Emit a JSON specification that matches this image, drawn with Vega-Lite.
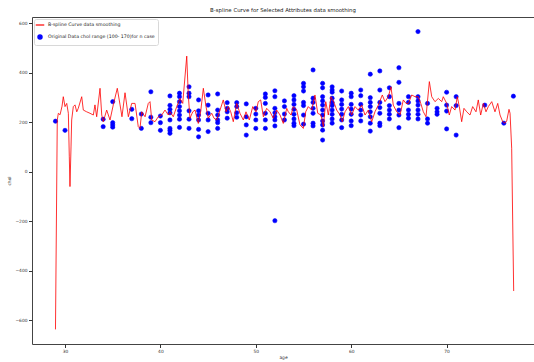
{
  "$schema": "https://vega.github.io/schema/vega-lite/v6.json",
  "width": 502,
  "height": 327,
  "autosize": "none",
  "padding": {"left": 32, "top": 17, "right": 0, "bottom": 18},
  "background": "white",
  "title": {"text": "B-spline Curve for Selected Attributes data smoothing", "fontSize": 5.4, "fontWeight": "normal", "font": "DejaVu Sans", "color": "#222", "offset": 4, "anchor": "middle"},
  "config": {
    "view": {"stroke": "#444", "strokeWidth": 1},
    "axis": {"grid": false, "domain": false, "tickColor": "#333", "tickSize": 3.5, "labelPadding": 1.5, "labelFontSize": 4.4, "labelFont": "DejaVu Sans", "labelColor": "#333", "titleFontSize": 4.4, "titleFont": "DejaVu Sans", "titleFontWeight": "normal", "titleColor": "#333"},
    "legend": {"orient": "none", "legendX": 2, "legendY": 2, "strokeColor": "#d8d8d8", "fillColor": "white", "padding": 3, "cornerRadius": 2, "labelFontSize": 4.7, "labelFont": "DejaVu Sans", "labelColor": "#222", "labelLimit": 400, "symbolSize": 18, "symbolStrokeWidth": 1.2, "rowPadding": 4, "labelOffset": 5, "title": null}
  },
  "datasets": {
    "curve": [
      {"age": 29.00, "chol": -637}, {"age": 29.19, "chol": 209}, {"age": 29.30, "chol": 236}, {"age": 29.48, "chol": 230}, {"age": 29.69, "chol": 265}, {"age": 29.82, "chol": 303}, {"age": 30.00, "chol": 263}, {"age": 30.18, "chol": 276}, {"age": 30.35, "chol": 236}, {"age": 30.45, "chol": 60}, {"age": 30.52, "chol": -60}, {"age": 30.63, "chol": 100}, {"age": 30.70, "chol": 209}, {"age": 30.87, "chol": 263}, {"age": 31.05, "chol": 270}, {"age": 31.23, "chol": 242}, {"age": 31.39, "chol": 256}, {"age": 31.75, "chol": 303}, {"age": 31.92, "chol": 249}, {"age": 32.27, "chol": 242}, {"age": 32.62, "chol": 236}, {"age": 32.97, "chol": 229}, {"age": 33.14, "chol": 270}, {"age": 33.32, "chol": 222}, {"age": 33.67, "chol": 337}, {"age": 33.85, "chol": 229}, {"age": 34.01, "chol": 202}, {"age": 34.37, "chol": 249}, {"age": 34.72, "chol": 209}, {"age": 35.06, "chol": 270}, {"age": 35.48, "chol": 337}, {"age": 35.77, "chol": 270}, {"age": 35.97, "chol": 222}, {"age": 36.29, "chol": 319}, {"age": 36.64, "chol": 222}, {"age": 36.99, "chol": 276}, {"age": 37.34, "chol": 276}, {"age": 37.68, "chol": 182}, {"age": 37.86, "chol": 175}, {"age": 38.04, "chol": 242}, {"age": 38.39, "chol": 222}, {"age": 38.73, "chol": 276}, {"age": 38.91, "chol": 283}, {"age": 39.09, "chol": 209}, {"age": 39.43, "chol": 202}, {"age": 39.78, "chol": 222}, {"age": 40.14, "chol": 229}, {"age": 40.48, "chol": 249}, {"age": 40.83, "chol": 229}, {"age": 41.01, "chol": 242}, {"age": 41.35, "chol": 222}, {"age": 41.71, "chol": 263}, {"age": 42.05, "chol": 296}, {"age": 42.34, "chol": 276}, {"age": 42.76, "chol": 467}, {"age": 42.92, "chol": 310}, {"age": 43.10, "chol": 216}, {"age": 43.39, "chol": 242}, {"age": 43.63, "chol": 249}, {"age": 43.97, "chol": 195}, {"age": 44.22, "chol": 242}, {"age": 44.50, "chol": 337}, {"age": 44.78, "chol": 263}, {"age": 45.02, "chol": 216}, {"age": 45.38, "chol": 236}, {"age": 45.62, "chol": 216}, {"age": 45.90, "chol": 209}, {"age": 46.25, "chol": 249}, {"age": 46.59, "chol": 290}, {"age": 46.88, "chol": 242}, {"age": 47.12, "chol": 263}, {"age": 47.37, "chol": 242}, {"age": 47.64, "chol": 202}, {"age": 48.00, "chol": 276}, {"age": 48.34, "chol": 236}, {"age": 48.69, "chol": 209}, {"age": 48.97, "chol": 242}, {"age": 49.32, "chol": 209}, {"age": 49.68, "chol": 263}, {"age": 50.02, "chol": 242}, {"age": 50.26, "chol": 283}, {"age": 50.51, "chol": 290}, {"age": 50.79, "chol": 222}, {"age": 51.14, "chol": 256}, {"age": 51.49, "chol": 242}, {"age": 51.83, "chol": 216}, {"age": 52.19, "chol": 249}, {"age": 52.54, "chol": 229}, {"age": 52.88, "chol": 195}, {"age": 53.24, "chol": 256}, {"age": 53.41, "chol": 242}, {"age": 53.69, "chol": 229}, {"age": 53.93, "chol": 263}, {"age": 54.29, "chol": 249}, {"age": 54.63, "chol": 189}, {"age": 54.98, "chol": 175}, {"age": 55.23, "chol": 242}, {"age": 55.50, "chol": 263}, {"age": 55.86, "chol": 249}, {"age": 56.20, "chol": 310}, {"age": 56.49, "chol": 236}, {"age": 56.83, "chol": 229}, {"age": 57.08, "chol": 182}, {"age": 57.33, "chol": 283}, {"age": 57.60, "chol": 229}, {"age": 57.88, "chol": 303}, {"age": 58.23, "chol": 276}, {"age": 58.48, "chol": 249}, {"age": 58.83, "chol": 229}, {"age": 59.07, "chol": 202}, {"age": 59.35, "chol": 242}, {"age": 59.70, "chol": 263}, {"age": 60.05, "chol": 229}, {"age": 60.40, "chol": 263}, {"age": 60.74, "chol": 249}, {"age": 61.10, "chol": 269}, {"age": 61.45, "chol": 229}, {"age": 61.79, "chol": 249}, {"age": 62.15, "chol": 202}, {"age": 62.49, "chol": 242}, {"age": 62.84, "chol": 269}, {"age": 63.26, "chol": 310}, {"age": 63.54, "chol": 283}, {"age": 63.89, "chol": 303}, {"age": 64.17, "chol": 343}, {"age": 64.41, "chol": 269}, {"age": 64.77, "chol": 242}, {"age": 65.12, "chol": 229}, {"age": 65.46, "chol": 290}, {"age": 65.74, "chol": 276}, {"age": 66.00, "chol": 276}, {"age": 66.34, "chol": 310}, {"age": 66.69, "chol": 303}, {"age": 67.03, "chol": 303}, {"age": 67.29, "chol": 276}, {"age": 67.56, "chol": 242}, {"age": 67.84, "chol": 222}, {"age": 68.19, "chol": 364}, {"age": 68.44, "chol": 303}, {"age": 68.78, "chol": 283}, {"age": 69.13, "chol": 296}, {"age": 69.49, "chol": 283}, {"age": 69.65, "chol": 303}, {"age": 70.01, "chol": 276}, {"age": 70.28, "chol": 229}, {"age": 70.53, "chol": 263}, {"age": 70.88, "chol": 249}, {"age": 71.12, "chol": 303}, {"age": 71.33, "chol": 263}, {"age": 71.58, "chol": 202}, {"age": 71.82, "chol": 256}, {"age": 72.11, "chol": 242}, {"age": 72.45, "chol": 229}, {"age": 72.73, "chol": 263}, {"age": 73.08, "chol": 242}, {"age": 73.32, "chol": 290}, {"age": 73.57, "chol": 229}, {"age": 73.85, "chol": 276}, {"age": 74.13, "chol": 242}, {"age": 74.37, "chol": 263}, {"age": 74.73, "chol": 283}, {"age": 75.07, "chol": 242}, {"age": 75.36, "chol": 276}, {"age": 75.60, "chol": 229}, {"age": 75.88, "chol": 202}, {"age": 76.12, "chol": 196}, {"age": 76.30, "chol": 205}, {"age": 76.54, "chol": 252}, {"age": 76.65, "chol": 236}, {"age": 76.82, "chol": 95}, {"age": 77.03, "chol": -482}
    ],
    "pts": [
      {"age": 29, "chol": 204},
      {"age": 30, "chol": 167},
      {"age": 34, "chol": 212}, {"age": 34, "chol": 182},
      {"age": 35, "chol": 283}, {"age": 35, "chol": 198}, {"age": 35, "chol": 189}, {"age": 35, "chol": 180},
      {"age": 37, "chol": 252}, {"age": 37, "chol": 214},
      {"age": 38, "chol": 233}, {"age": 38, "chol": 175},
      {"age": 39, "chol": 323}, {"age": 39, "chol": 220}, {"age": 39, "chol": 198},
      {"age": 40, "chol": 225}, {"age": 40, "chol": 198}, {"age": 40, "chol": 167},
      {"age": 41, "chol": 306}, {"age": 41, "chol": 268}, {"age": 41, "chol": 252}, {"age": 41, "chol": 238}, {"age": 41, "chol": 209}, {"age": 41, "chol": 175}, {"age": 41, "chol": 166}, {"age": 41, "chol": 155},
      {"age": 42, "chol": 317}, {"age": 42, "chol": 303}, {"age": 42, "chol": 283}, {"age": 42, "chol": 263}, {"age": 42, "chol": 246}, {"age": 42, "chol": 229}, {"age": 42, "chol": 212}, {"age": 42, "chol": 179},
      {"age": 43, "chol": 343}, {"age": 43, "chol": 317}, {"age": 43, "chol": 303}, {"age": 43, "chol": 246}, {"age": 43, "chol": 212}, {"age": 43, "chol": 175},
      {"age": 44, "chol": 290}, {"age": 44, "chol": 246}, {"age": 44, "chol": 229}, {"age": 44, "chol": 209}, {"age": 44, "chol": 171}, {"age": 44, "chol": 141},
      {"age": 45, "chol": 310}, {"age": 45, "chol": 269}, {"age": 45, "chol": 236}, {"age": 45, "chol": 209}, {"age": 45, "chol": 162},
      {"age": 46, "chol": 314}, {"age": 46, "chol": 249}, {"age": 46, "chol": 229}, {"age": 46, "chol": 209}, {"age": 46, "chol": 198}, {"age": 46, "chol": 175},
      {"age": 47, "chol": 279}, {"age": 47, "chol": 256}, {"age": 47, "chol": 242}, {"age": 47, "chol": 216},
      {"age": 48, "chol": 279}, {"age": 48, "chol": 263}, {"age": 48, "chol": 238}, {"age": 48, "chol": 220},
      {"age": 49, "chol": 274}, {"age": 49, "chol": 222}, {"age": 49, "chol": 189}, {"age": 49, "chol": 148},
      {"age": 50, "chol": 256}, {"age": 50, "chol": 233}, {"age": 50, "chol": 209}, {"age": 50, "chol": 175},
      {"age": 51, "chol": 314}, {"age": 51, "chol": 300}, {"age": 51, "chol": 276}, {"age": 51, "chol": 236}, {"age": 51, "chol": 209}, {"age": 51, "chol": 175},
      {"age": 52, "chol": 327}, {"age": 52, "chol": 303}, {"age": 52, "chol": 256}, {"age": 52, "chol": 238}, {"age": 52, "chol": 222}, {"age": 52, "chol": 209}, {"age": 52, "chol": 185}, {"age": 52, "chol": -198},
      {"age": 53, "chol": 286}, {"age": 53, "chol": 263}, {"age": 53, "chol": 233}, {"age": 53, "chol": 209},
      {"age": 54, "chol": 307}, {"age": 54, "chol": 290}, {"age": 54, "chol": 272}, {"age": 54, "chol": 252}, {"age": 54, "chol": 232}, {"age": 54, "chol": 213}, {"age": 54, "chol": 196}, {"age": 54, "chol": 186},
      {"age": 55, "chol": 357}, {"age": 55, "chol": 343}, {"age": 55, "chol": 326}, {"age": 55, "chol": 280}, {"age": 55, "chol": 267}, {"age": 55, "chol": 229}, {"age": 55, "chol": 192},
      {"age": 56, "chol": 411}, {"age": 56, "chol": 297}, {"age": 56, "chol": 280}, {"age": 56, "chol": 256}, {"age": 56, "chol": 236}, {"age": 56, "chol": 196}, {"age": 56, "chol": 185},
      {"age": 57, "chol": 357}, {"age": 57, "chol": 339}, {"age": 57, "chol": 303}, {"age": 57, "chol": 286}, {"age": 57, "chol": 269}, {"age": 57, "chol": 249}, {"age": 57, "chol": 229}, {"age": 57, "chol": 205}, {"age": 57, "chol": 189}, {"age": 57, "chol": 168}, {"age": 57, "chol": 128},
      {"age": 58, "chol": 343}, {"age": 58, "chol": 330}, {"age": 58, "chol": 321}, {"age": 58, "chol": 297}, {"age": 58, "chol": 280}, {"age": 58, "chol": 267}, {"age": 58, "chol": 249}, {"age": 58, "chol": 232}, {"age": 58, "chol": 213}, {"age": 58, "chol": 196},
      {"age": 59, "chol": 326}, {"age": 59, "chol": 290}, {"age": 59, "chol": 272}, {"age": 59, "chol": 253}, {"age": 59, "chol": 232}, {"age": 59, "chol": 209}, {"age": 59, "chol": 178},
      {"age": 60, "chol": 317}, {"age": 60, "chol": 303}, {"age": 60, "chol": 272}, {"age": 60, "chol": 253}, {"age": 60, "chol": 232}, {"age": 60, "chol": 205}, {"age": 60, "chol": 186},
      {"age": 61, "chol": 330}, {"age": 61, "chol": 307}, {"age": 61, "chol": 272}, {"age": 61, "chol": 249}, {"age": 61, "chol": 229}, {"age": 61, "chol": 205},
      {"age": 62, "chol": 394}, {"age": 62, "chol": 299}, {"age": 62, "chol": 280}, {"age": 62, "chol": 263}, {"age": 62, "chol": 242}, {"age": 62, "chol": 222}, {"age": 62, "chol": 196}, {"age": 62, "chol": 164},
      {"age": 63, "chol": 407}, {"age": 63, "chol": 330}, {"age": 63, "chol": 280}, {"age": 63, "chol": 259}, {"age": 63, "chol": 236}, {"age": 63, "chol": 196}, {"age": 63, "chol": 186},
      {"age": 64, "chol": 339}, {"age": 64, "chol": 303}, {"age": 64, "chol": 267}, {"age": 64, "chol": 249}, {"age": 64, "chol": 232}, {"age": 64, "chol": 213},
      {"age": 65, "chol": 420}, {"age": 65, "chol": 361}, {"age": 65, "chol": 276}, {"age": 65, "chol": 249}, {"age": 65, "chol": 229}, {"age": 65, "chol": 178},
      {"age": 66, "chol": 303}, {"age": 66, "chol": 280}, {"age": 66, "chol": 249}, {"age": 66, "chol": 232}, {"age": 66, "chol": 216},
      {"age": 67, "chol": 566}, {"age": 67, "chol": 303}, {"age": 67, "chol": 286}, {"age": 67, "chol": 269}, {"age": 67, "chol": 249}, {"age": 67, "chol": 232}, {"age": 67, "chol": 213},
      {"age": 68, "chol": 276}, {"age": 68, "chol": 213}, {"age": 68, "chol": 196},
      {"age": 69, "chol": 256}, {"age": 69, "chol": 242}, {"age": 69, "chol": 232},
      {"age": 70, "chol": 321}, {"age": 70, "chol": 269}, {"age": 70, "chol": 245}, {"age": 70, "chol": 173},
      {"age": 71, "chol": 303}, {"age": 71, "chol": 267}, {"age": 71, "chol": 148},
      {"age": 74, "chol": 269},
      {"age": 76, "chol": 196},
      {"age": 77, "chol": 305}
    ]
  },
  "layer": [
    {
      "data": {"name": "pts"},
      "mark": {"type": "point", "filled": true, "size": 18, "opacity": 1, "strokeWidth": 0.6},
      "encoding": {
        "x": {"field": "age", "type": "quantitative", "scale": {"domain": [26.54, 79.16], "nice": false, "zero": false}, "axis": {"values": [30, 40, 50, 60, 70], "title": "age", "titlePadding": 3}},
        "y": {"field": "chol", "type": "quantitative", "scale": {"domain": [-696, 625], "nice": false, "zero": false}, "axis": {"values": [-600, -400, -200, 0, 200, 400, 600], "title": "chol", "titlePadding": 3}},
        "fill": {"datum": "Original Data chol range (100- 170)for n case", "scale": {"domain": ["B-spline Curve data smoothing", "Original Data chol range (100- 170)for n case"], "range": ["#ff0000", "#0000ff"]}},
        "stroke": {"datum": "Original Data chol range (100- 170)for n case", "scale": {"domain": ["B-spline Curve data smoothing", "Original Data chol range (100- 170)for n case"], "range": ["#ff0000", "#0000ff"]}},
        "shape": {"datum": "Original Data chol range (100- 170)for n case", "scale": {"domain": ["B-spline Curve data smoothing", "Original Data chol range (100- 170)for n case"], "range": ["M-2,0H2", "circle"]}}
      }
    },
    {
      "data": {"name": "curve"},
      "mark": {"type": "line", "strokeWidth": 0.9, "opacity": 0.9},
      "encoding": {
        "x": {"field": "age", "type": "quantitative"},
        "y": {"field": "chol", "type": "quantitative"},
        "stroke": {"datum": "B-spline Curve data smoothing"}
      }
    }
  ]
}
